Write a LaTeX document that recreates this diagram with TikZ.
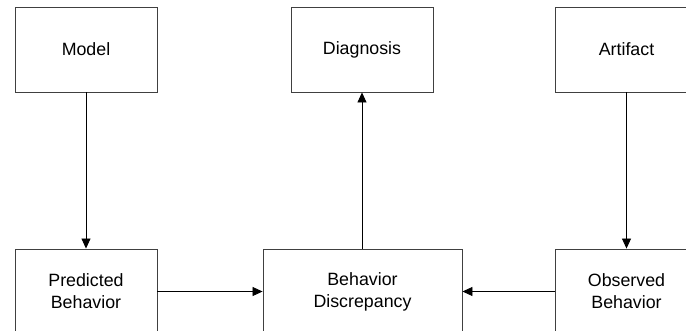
\documentclass[tikz,border=0pt]{standalone}
\usepackage{fontspec}
\setmainfont{Liberation Sans}
\usetikzlibrary{arrows.meta}
\tikzset{
    block/.style={
    rectangle,draw=black!75,line width=0.9pt,minimum width=142pt,minimum height=85pt,
    align=center,font=\fontsize{17.8}{22}\selectfont
    },
    wideblock/.style={
    block,minimum width=199pt
    },
    flow/.style={
    draw=black,line width=0.8pt,-{Triangle[length=10pt,width=9pt]}
    },
}
\begin{document}
\begin{tikzpicture}[x=1pt,y=-1pt]
   \useasboundingbox (0,0) rectangle (686,330);
   \clip (0,0) rectangle (686,330);
   \node[block] (model) at (86,49.5) {Model};
   \node[block] (diag) at (362,49.5) {Diagnosis};
   \node[block] (art) at (626.5,49.5) {Artifact};
   \node[block] (pred) at (86,291.5) {Predicted\\Behavior};
   \node[wideblock] (disc) at (362.5,291.5) {Behavior\\Discrepancy};
   \node[block] (obs) at (626.5,291.5) {Observed\\Behavior};

  \path
    (model) edge[flow] (pred)
    (art) edge[flow] (obs)
    (pred) edge[flow] (disc)
    (obs) edge[flow] (disc)
    (disc.north -| diag.south) edge[flow] (diag.south);
  \end{tikzpicture}
\end{document}
